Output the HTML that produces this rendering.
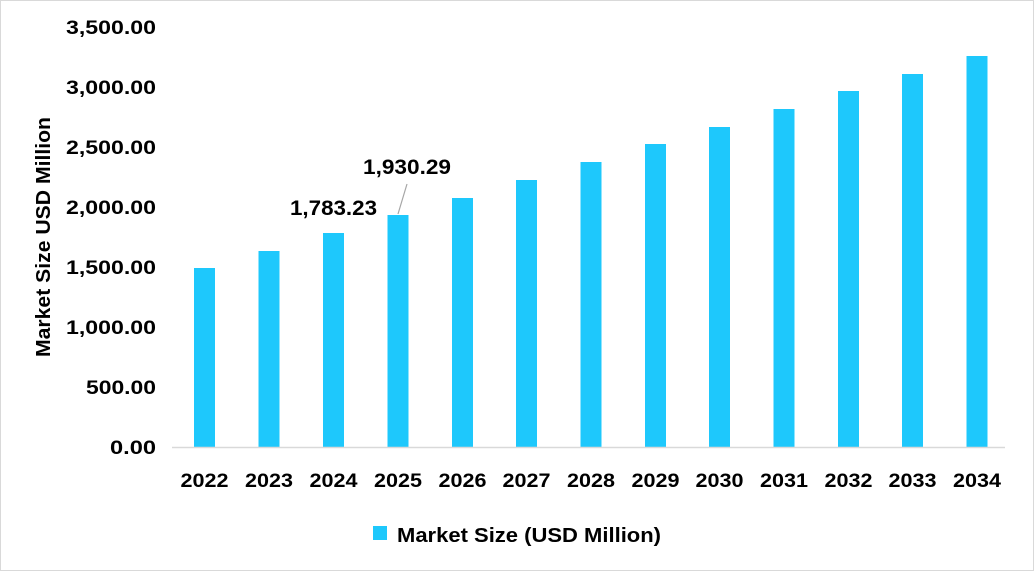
<!DOCTYPE html>
<html><head><meta charset="utf-8"><style>
body{margin:0;background:#fff}
svg{display:block;font-family:"Liberation Sans",sans-serif;font-weight:bold}
</style></head><body>
<svg width="1035" height="572" viewBox="0 0 1035 572">
<rect x="0.5" y="0.5" width="1033" height="570" fill="#fff" stroke="#d9d9d9"/>
<g font-size="19" text-anchor="end" fill="#000" lengthAdjust="spacingAndGlyphs">
<text x="156" y="454" textLength="46" lengthAdjust="spacingAndGlyphs">0.00</text>
<text x="156" y="394" textLength="70" lengthAdjust="spacingAndGlyphs">500.00</text>
<text x="156" y="334" textLength="90" lengthAdjust="spacingAndGlyphs">1,000.00</text>
<text x="156" y="274" textLength="90" lengthAdjust="spacingAndGlyphs">1,500.00</text>
<text x="156" y="214" textLength="90" lengthAdjust="spacingAndGlyphs">2,000.00</text>
<text x="156" y="154" textLength="90" lengthAdjust="spacingAndGlyphs">2,500.00</text>
<text x="156" y="94" textLength="90" lengthAdjust="spacingAndGlyphs">3,000.00</text>
<text x="156" y="34" textLength="90" lengthAdjust="spacingAndGlyphs">3,500.00</text>
</g>
<text transform="translate(50,237) rotate(-90)" font-size="20" text-anchor="middle" textLength="240" lengthAdjust="spacingAndGlyphs">Market Size USD Million</text>
<g fill="#1ec8fc">
<rect x="194" y="268" width="21" height="179"/>
<rect x="258.5" y="251" width="21" height="196"/>
<rect x="323" y="233" width="21" height="214"/>
<rect x="387.5" y="215" width="21" height="232"/>
<rect x="452" y="198" width="21" height="249"/>
<rect x="516" y="180" width="21" height="267"/>
<rect x="580.5" y="162" width="21" height="285"/>
<rect x="645" y="144" width="21" height="303"/>
<rect x="709" y="127" width="21" height="320"/>
<rect x="773.5" y="109" width="21" height="338"/>
<rect x="838" y="91" width="21" height="356"/>
<rect x="902" y="74" width="21" height="373"/>
<rect x="966.5" y="56" width="21" height="391"/>
</g>
<line x1="172" y1="447.5" x2="1005" y2="447.5" stroke="#d9d9d9" stroke-width="1.5"/>
<g font-size="19" text-anchor="middle">
<text x="204.5" y="487" textLength="48" lengthAdjust="spacingAndGlyphs">2022</text>
<text x="269" y="487" textLength="48" lengthAdjust="spacingAndGlyphs">2023</text>
<text x="333.5" y="487" textLength="48" lengthAdjust="spacingAndGlyphs">2024</text>
<text x="398" y="487" textLength="48" lengthAdjust="spacingAndGlyphs">2025</text>
<text x="462.5" y="487" textLength="48" lengthAdjust="spacingAndGlyphs">2026</text>
<text x="526.5" y="487" textLength="48" lengthAdjust="spacingAndGlyphs">2027</text>
<text x="591" y="487" textLength="48" lengthAdjust="spacingAndGlyphs">2028</text>
<text x="655.5" y="487" textLength="48" lengthAdjust="spacingAndGlyphs">2029</text>
<text x="719.5" y="487" textLength="48" lengthAdjust="spacingAndGlyphs">2030</text>
<text x="784" y="487" textLength="48" lengthAdjust="spacingAndGlyphs">2031</text>
<text x="848.5" y="487" textLength="48" lengthAdjust="spacingAndGlyphs">2032</text>
<text x="912.5" y="487" textLength="48" lengthAdjust="spacingAndGlyphs">2033</text>
<text x="977" y="487" textLength="48" lengthAdjust="spacingAndGlyphs">2034</text>
</g>
<text x="333.5" y="215" font-size="21" text-anchor="middle" textLength="87" lengthAdjust="spacingAndGlyphs">1,783.23</text>
<text x="407" y="174" font-size="21" text-anchor="middle" textLength="88" lengthAdjust="spacingAndGlyphs">1,930.29</text>
<line x1="407" y1="184" x2="398" y2="214" stroke="#a6a6a6" stroke-width="1.2"/>
<rect x="373" y="526" width="14" height="14" fill="#1ec8fc"/>
<text x="397" y="542" font-size="20" textLength="264" lengthAdjust="spacingAndGlyphs">Market Size (USD Million)</text>
</svg>
</body></html>
